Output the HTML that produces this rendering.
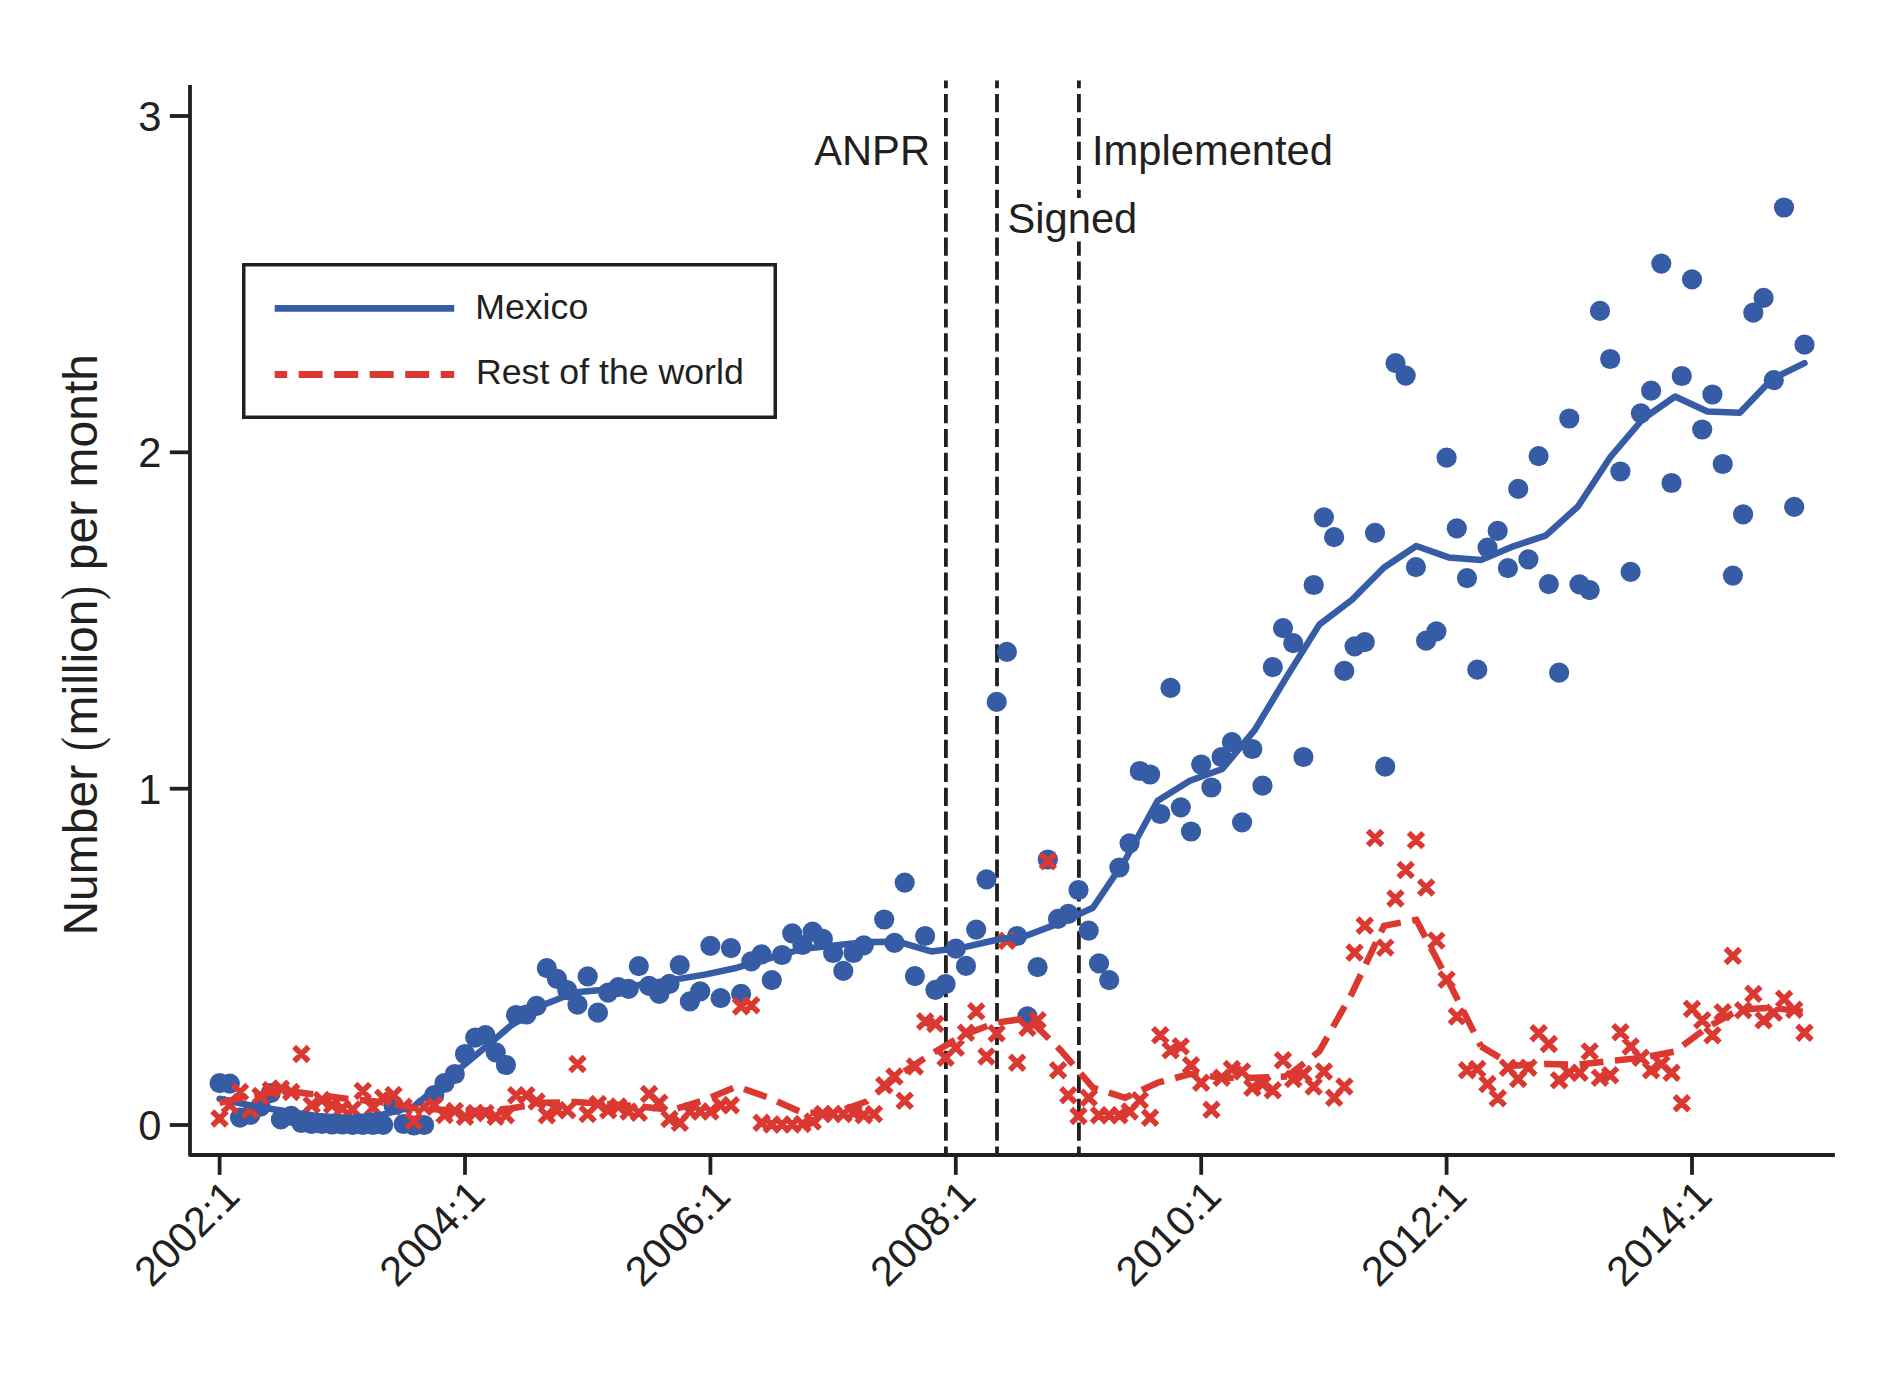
<!DOCTYPE html>
<html><head><meta charset="utf-8"><title>Chart</title>
<style>html,body{margin:0;padding:0;background:#fff}svg{display:block}text{font-family:"Liberation Sans",Arial,Helvetica,sans-serif;fill:#231f20}</style></head>
<body>
<svg width="1878" height="1384" viewBox="0 0 1878 1384">
<rect width="1878" height="1384" fill="#fff"/>
<g stroke="#231f20" stroke-width="3.8" fill="none" stroke-dasharray="18.2 5.72" stroke-dashoffset="10.3">
<line x1="945.9" y1="80.4" x2="945.9" y2="1155"/>
<line x1="997.0" y1="80.4" x2="997.0" y2="1155"/>
<line x1="1078.9" y1="80.4" x2="1078.9" y2="1155"/>
</g>
<g fill="#355ca5">
<circle cx="219.6" cy="1083.2" r="10.1"/>
<circle cx="229.8" cy="1083.6" r="10.1"/>
<circle cx="240.0" cy="1117.6" r="10.1"/>
<circle cx="250.3" cy="1114.9" r="10.1"/>
<circle cx="260.5" cy="1106.7" r="10.1"/>
<circle cx="270.7" cy="1093.2" r="10.1"/>
<circle cx="280.9" cy="1119.4" r="10.1"/>
<circle cx="291.2" cy="1115.8" r="10.1"/>
<circle cx="301.4" cy="1123.0" r="10.1"/>
<circle cx="311.6" cy="1124.0" r="10.1"/>
<circle cx="321.9" cy="1124.0" r="10.1"/>
<circle cx="332.1" cy="1124.5" r="10.1"/>
<circle cx="342.3" cy="1124.5" r="10.1"/>
<circle cx="352.5" cy="1125.0" r="10.1"/>
<circle cx="362.8" cy="1125.0" r="10.1"/>
<circle cx="373.0" cy="1125.0" r="10.1"/>
<circle cx="383.2" cy="1124.8" r="10.1"/>
<circle cx="393.4" cy="1105.0" r="10.1"/>
<circle cx="403.6" cy="1124.0" r="10.1"/>
<circle cx="413.9" cy="1125.5" r="10.1"/>
<circle cx="424.1" cy="1125.0" r="10.1"/>
<circle cx="434.3" cy="1095.0" r="10.1"/>
<circle cx="444.5" cy="1083.0" r="10.1"/>
<circle cx="454.8" cy="1074.0" r="10.1"/>
<circle cx="465.0" cy="1054.0" r="10.1"/>
<circle cx="475.2" cy="1037.6" r="10.1"/>
<circle cx="485.4" cy="1035.2" r="10.1"/>
<circle cx="495.7" cy="1052.4" r="10.1"/>
<circle cx="505.9" cy="1065.0" r="10.1"/>
<circle cx="516.1" cy="1015.0" r="10.1"/>
<circle cx="526.4" cy="1014.5" r="10.1"/>
<circle cx="536.6" cy="1005.9" r="10.1"/>
<circle cx="546.8" cy="968.1" r="10.1"/>
<circle cx="557.0" cy="978.9" r="10.1"/>
<circle cx="567.2" cy="990.1" r="10.1"/>
<circle cx="577.5" cy="1004.7" r="10.1"/>
<circle cx="587.7" cy="976.4" r="10.1"/>
<circle cx="597.9" cy="1012.7" r="10.1"/>
<circle cx="608.1" cy="992.6" r="10.1"/>
<circle cx="618.4" cy="987.1" r="10.1"/>
<circle cx="628.6" cy="988.9" r="10.1"/>
<circle cx="638.8" cy="966.1" r="10.1"/>
<circle cx="649.0" cy="985.9" r="10.1"/>
<circle cx="659.3" cy="993.9" r="10.1"/>
<circle cx="669.5" cy="983.9" r="10.1"/>
<circle cx="679.7" cy="965.1" r="10.1"/>
<circle cx="689.9" cy="1001.4" r="10.1"/>
<circle cx="700.2" cy="991.4" r="10.1"/>
<circle cx="710.4" cy="945.8" r="10.1"/>
<circle cx="720.6" cy="998.2" r="10.1"/>
<circle cx="730.9" cy="948.1" r="10.1"/>
<circle cx="741.1" cy="993.9" r="10.1"/>
<circle cx="751.3" cy="961.4" r="10.1"/>
<circle cx="761.5" cy="954.4" r="10.1"/>
<circle cx="771.8" cy="980.1" r="10.1"/>
<circle cx="782.0" cy="955.0" r="10.1"/>
<circle cx="792.2" cy="933.3" r="10.1"/>
<circle cx="802.4" cy="945.0" r="10.1"/>
<circle cx="812.6" cy="931.6" r="10.1"/>
<circle cx="822.9" cy="938.9" r="10.1"/>
<circle cx="833.1" cy="953.0" r="10.1"/>
<circle cx="843.3" cy="970.8" r="10.1"/>
<circle cx="853.5" cy="953.0" r="10.1"/>
<circle cx="863.8" cy="945.3" r="10.1"/>
<circle cx="884.2" cy="919.5" r="10.1"/>
<circle cx="894.5" cy="942.8" r="10.1"/>
<circle cx="904.7" cy="882.6" r="10.1"/>
<circle cx="914.9" cy="976.1" r="10.1"/>
<circle cx="925.1" cy="936.0" r="10.1"/>
<circle cx="935.4" cy="989.8" r="10.1"/>
<circle cx="945.6" cy="984.0" r="10.1"/>
<circle cx="955.8" cy="948.7" r="10.1"/>
<circle cx="966.0" cy="965.9" r="10.1"/>
<circle cx="976.2" cy="929.6" r="10.1"/>
<circle cx="986.5" cy="879.3" r="10.1"/>
<circle cx="996.7" cy="701.9" r="10.1"/>
<circle cx="1006.9" cy="651.8" r="10.1"/>
<circle cx="1017.1" cy="936.0" r="10.1"/>
<circle cx="1027.4" cy="1016.4" r="10.1"/>
<circle cx="1037.6" cy="967.1" r="10.1"/>
<circle cx="1047.8" cy="859.5" r="10.1"/>
<circle cx="1058.0" cy="918.8" r="10.1"/>
<circle cx="1068.3" cy="913.8" r="10.1"/>
<circle cx="1078.5" cy="890.0" r="10.1"/>
<circle cx="1088.7" cy="930.6" r="10.1"/>
<circle cx="1099.0" cy="963.4" r="10.1"/>
<circle cx="1109.2" cy="980.1" r="10.1"/>
<circle cx="1119.4" cy="867.5" r="10.1"/>
<circle cx="1129.6" cy="843.3" r="10.1"/>
<circle cx="1139.8" cy="771.0" r="10.1"/>
<circle cx="1150.1" cy="774.5" r="10.1"/>
<circle cx="1160.3" cy="814.0" r="10.1"/>
<circle cx="1170.5" cy="687.9" r="10.1"/>
<circle cx="1180.8" cy="807.3" r="10.1"/>
<circle cx="1191.0" cy="831.5" r="10.1"/>
<circle cx="1201.2" cy="764.5" r="10.1"/>
<circle cx="1211.4" cy="787.5" r="10.1"/>
<circle cx="1221.6" cy="757.0" r="10.1"/>
<circle cx="1231.9" cy="742.2" r="10.1"/>
<circle cx="1242.1" cy="822.3" r="10.1"/>
<circle cx="1252.3" cy="749.0" r="10.1"/>
<circle cx="1262.5" cy="785.7" r="10.1"/>
<circle cx="1272.8" cy="667.1" r="10.1"/>
<circle cx="1283.0" cy="628.1" r="10.1"/>
<circle cx="1293.2" cy="643.1" r="10.1"/>
<circle cx="1303.4" cy="757.0" r="10.1"/>
<circle cx="1313.7" cy="585.0" r="10.1"/>
<circle cx="1323.9" cy="517.3" r="10.1"/>
<circle cx="1334.1" cy="537.2" r="10.1"/>
<circle cx="1344.3" cy="670.9" r="10.1"/>
<circle cx="1354.6" cy="646.3" r="10.1"/>
<circle cx="1364.8" cy="642.1" r="10.1"/>
<circle cx="1375.0" cy="532.8" r="10.1"/>
<circle cx="1385.2" cy="766.7" r="10.1"/>
<circle cx="1395.5" cy="363.2" r="10.1"/>
<circle cx="1405.7" cy="375.6" r="10.1"/>
<circle cx="1415.9" cy="567.1" r="10.1"/>
<circle cx="1426.1" cy="640.7" r="10.1"/>
<circle cx="1436.4" cy="631.4" r="10.1"/>
<circle cx="1446.6" cy="457.7" r="10.1"/>
<circle cx="1456.8" cy="528.3" r="10.1"/>
<circle cx="1467.0" cy="578.1" r="10.1"/>
<circle cx="1477.3" cy="669.7" r="10.1"/>
<circle cx="1487.5" cy="547.6" r="10.1"/>
<circle cx="1497.7" cy="530.8" r="10.1"/>
<circle cx="1507.9" cy="568.1" r="10.1"/>
<circle cx="1518.2" cy="488.8" r="10.1"/>
<circle cx="1528.4" cy="559.4" r="10.1"/>
<circle cx="1538.6" cy="456.1" r="10.1"/>
<circle cx="1548.8" cy="584.1" r="10.1"/>
<circle cx="1559.1" cy="672.7" r="10.1"/>
<circle cx="1569.3" cy="418.5" r="10.1"/>
<circle cx="1579.5" cy="584.4" r="10.1"/>
<circle cx="1589.7" cy="590.1" r="10.1"/>
<circle cx="1600.0" cy="310.9" r="10.1"/>
<circle cx="1610.2" cy="359.0" r="10.1"/>
<circle cx="1620.4" cy="471.5" r="10.1"/>
<circle cx="1630.6" cy="571.9" r="10.1"/>
<circle cx="1640.9" cy="413.3" r="10.1"/>
<circle cx="1651.1" cy="390.7" r="10.1"/>
<circle cx="1661.3" cy="263.6" r="10.1"/>
<circle cx="1671.5" cy="483.0" r="10.1"/>
<circle cx="1681.8" cy="376.0" r="10.1"/>
<circle cx="1692.0" cy="279.4" r="10.1"/>
<circle cx="1702.2" cy="429.5" r="10.1"/>
<circle cx="1712.4" cy="394.5" r="10.1"/>
<circle cx="1722.7" cy="464.0" r="10.1"/>
<circle cx="1732.9" cy="575.6" r="10.1"/>
<circle cx="1743.1" cy="514.3" r="10.1"/>
<circle cx="1753.3" cy="312.7" r="10.1"/>
<circle cx="1763.6" cy="297.9" r="10.1"/>
<circle cx="1773.8" cy="380.2" r="10.1"/>
<circle cx="1784.0" cy="207.5" r="10.1"/>
<circle cx="1794.2" cy="506.8" r="10.1"/>
<circle cx="1804.5" cy="344.7" r="10.1"/>
</g>
<path fill="none" stroke="#da3831" stroke-width="5.6" d="M212.3 1111.2l14.54 14.54M212.3 1125.8l14.54 -14.54M222.6 1097.7l14.54 14.54M222.6 1112.3l14.54 -14.54M232.8 1084.7l14.54 14.54M232.8 1099.3l14.54 -14.54M243.0 1102.7l14.54 14.54M243.0 1117.3l14.54 -14.54M253.2 1088.7l14.54 14.54M253.2 1103.3l14.54 -14.54M263.5 1082.7l14.54 14.54M263.5 1097.3l14.54 -14.54M273.7 1081.3l14.54 14.54M273.7 1095.9l14.54 -14.54M283.9 1084.7l14.54 14.54M283.9 1099.3l14.54 -14.54M294.1 1046.7l14.54 14.54M294.1 1061.3l14.54 -14.54M304.4 1097.7l14.54 14.54M304.4 1112.3l14.54 -14.54M314.6 1092.7l14.54 14.54M314.6 1107.3l14.54 -14.54M324.8 1097.7l14.54 14.54M324.8 1112.3l14.54 -14.54M335.0 1101.2l14.54 14.54M335.0 1115.8l14.54 -14.54M345.3 1102.2l14.54 14.54M345.3 1116.8l14.54 -14.54M355.5 1083.7l14.54 14.54M355.5 1098.3l14.54 -14.54M365.7 1100.3l14.54 14.54M365.7 1114.9l14.54 -14.54M375.9 1090.4l14.54 14.54M375.9 1105.0l14.54 -14.54M386.2 1087.7l14.54 14.54M386.2 1102.3l14.54 -14.54M396.4 1099.4l14.54 14.54M396.4 1114.0l14.54 -14.54M406.6 1113.7l14.54 14.54M406.6 1128.3l14.54 -14.54M416.8 1099.4l14.54 14.54M416.8 1114.0l14.54 -14.54M427.1 1097.7l14.54 14.54M427.1 1112.3l14.54 -14.54M437.3 1107.7l14.54 14.54M437.3 1122.3l14.54 -14.54M447.5 1103.7l14.54 14.54M447.5 1118.3l14.54 -14.54M457.7 1109.4l14.54 14.54M457.7 1124.0l14.54 -14.54M468.0 1105.7l14.54 14.54M468.0 1120.3l14.54 -14.54M478.2 1105.7l14.54 14.54M478.2 1120.3l14.54 -14.54M488.4 1109.4l14.54 14.54M488.4 1124.0l14.54 -14.54M498.6 1108.0l14.54 14.54M498.6 1122.6l14.54 -14.54M508.9 1088.0l14.54 14.54M508.9 1102.6l14.54 -14.54M519.1 1088.0l14.54 14.54M519.1 1102.6l14.54 -14.54M529.3 1094.2l14.54 14.54M529.3 1108.8l14.54 -14.54M539.5 1108.0l14.54 14.54M539.5 1122.6l14.54 -14.54M549.8 1103.0l14.54 14.54M549.8 1117.6l14.54 -14.54M560.0 1103.0l14.54 14.54M560.0 1117.6l14.54 -14.54M570.2 1056.7l14.54 14.54M570.2 1071.3l14.54 -14.54M580.4 1106.7l14.54 14.54M580.4 1121.3l14.54 -14.54M590.7 1096.7l14.54 14.54M590.7 1111.3l14.54 -14.54M600.9 1103.0l14.54 14.54M600.9 1117.6l14.54 -14.54M611.1 1099.2l14.54 14.54M611.1 1113.8l14.54 -14.54M621.3 1104.2l14.54 14.54M621.3 1118.8l14.54 -14.54M631.6 1105.5l14.54 14.54M631.6 1120.1l14.54 -14.54M641.8 1086.7l14.54 14.54M641.8 1101.3l14.54 -14.54M652.0 1095.5l14.54 14.54M652.0 1110.1l14.54 -14.54M662.2 1111.7l14.54 14.54M662.2 1126.3l14.54 -14.54M672.5 1115.5l14.54 14.54M672.5 1130.1l14.54 -14.54M682.7 1104.2l14.54 14.54M682.7 1118.8l14.54 -14.54M692.9 1104.2l14.54 14.54M692.9 1118.8l14.54 -14.54M703.1 1104.2l14.54 14.54M703.1 1118.8l14.54 -14.54M713.4 1098.0l14.54 14.54M713.4 1112.6l14.54 -14.54M723.6 1098.0l14.54 14.54M723.6 1112.6l14.54 -14.54M733.8 999.1l14.54 14.54M733.8 1013.7l14.54 -14.54M744.0 997.9l14.54 14.54M744.0 1012.5l14.54 -14.54M754.3 1115.5l14.54 14.54M754.3 1130.1l14.54 -14.54M764.5 1117.2l14.54 14.54M764.5 1131.8l14.54 -14.54M774.7 1117.2l14.54 14.54M774.7 1131.8l14.54 -14.54M784.9 1117.2l14.54 14.54M784.9 1131.8l14.54 -14.54M795.2 1116.7l14.54 14.54M795.2 1131.3l14.54 -14.54M805.4 1114.2l14.54 14.54M805.4 1128.8l14.54 -14.54M815.6 1106.7l14.54 14.54M815.6 1121.3l14.54 -14.54M825.8 1106.7l14.54 14.54M825.8 1121.3l14.54 -14.54M836.1 1106.7l14.54 14.54M836.1 1121.3l14.54 -14.54M846.3 1105.5l14.54 14.54M846.3 1120.1l14.54 -14.54M856.5 1108.0l14.54 14.54M856.5 1122.6l14.54 -14.54M866.7 1106.7l14.54 14.54M866.7 1121.3l14.54 -14.54M877.0 1077.9l14.54 14.54M877.0 1092.5l14.54 -14.54M887.2 1069.2l14.54 14.54M887.2 1083.8l14.54 -14.54M897.4 1093.5l14.54 14.54M897.4 1108.1l14.54 -14.54M907.6 1059.2l14.54 14.54M907.6 1073.8l14.54 -14.54M917.9 1014.1l14.54 14.54M917.9 1028.7l14.54 -14.54M928.1 1016.6l14.54 14.54M928.1 1031.2l14.54 -14.54M938.3 1050.4l14.54 14.54M938.3 1065.0l14.54 -14.54M948.5 1040.4l14.54 14.54M948.5 1055.0l14.54 -14.54M958.8 1025.4l14.54 14.54M958.8 1040.0l14.54 -14.54M969.0 1004.1l14.54 14.54M969.0 1018.7l14.54 -14.54M979.2 1049.2l14.54 14.54M979.2 1063.8l14.54 -14.54M989.4 1026.1l14.54 14.54M989.4 1040.7l14.54 -14.54M999.7 933.5l14.54 14.54M999.7 948.1l14.54 -14.54M1009.9 1055.4l14.54 14.54M1009.9 1070.0l14.54 -14.54M1020.1 1020.4l14.54 14.54M1020.1 1035.0l14.54 -14.54M1030.3 1012.9l14.54 14.54M1030.3 1027.5l14.54 -14.54M1040.6 854.0l14.54 14.54M1040.6 868.6l14.54 -14.54M1050.8 1062.9l14.54 14.54M1050.8 1077.5l14.54 -14.54M1061.0 1088.0l14.54 14.54M1061.0 1102.6l14.54 -14.54M1071.2 1108.7l14.54 14.54M1071.2 1123.3l14.54 -14.54M1081.5 1090.5l14.54 14.54M1081.5 1105.1l14.54 -14.54M1091.7 1108.0l14.54 14.54M1091.7 1122.6l14.54 -14.54M1101.9 1108.0l14.54 14.54M1101.9 1122.6l14.54 -14.54M1112.1 1108.0l14.54 14.54M1112.1 1122.6l14.54 -14.54M1122.4 1104.2l14.54 14.54M1122.4 1118.8l14.54 -14.54M1132.6 1093.0l14.54 14.54M1132.6 1107.6l14.54 -14.54M1142.8 1110.5l14.54 14.54M1142.8 1125.1l14.54 -14.54M1153.0 1027.9l14.54 14.54M1153.0 1042.5l14.54 -14.54M1163.3 1042.9l14.54 14.54M1163.3 1057.5l14.54 -14.54M1173.5 1039.1l14.54 14.54M1173.5 1053.7l14.54 -14.54M1183.7 1057.9l14.54 14.54M1183.7 1072.5l14.54 -14.54M1193.9 1075.4l14.54 14.54M1193.9 1090.0l14.54 -14.54M1204.2 1102.5l14.54 14.54M1204.2 1117.1l14.54 -14.54M1214.4 1070.4l14.54 14.54M1214.4 1085.0l14.54 -14.54M1224.6 1061.7l14.54 14.54M1224.6 1076.3l14.54 -14.54M1234.8 1064.2l14.54 14.54M1234.8 1078.8l14.54 -14.54M1245.1 1080.4l14.54 14.54M1245.1 1095.0l14.54 -14.54M1255.3 1076.7l14.54 14.54M1255.3 1091.3l14.54 -14.54M1265.5 1082.9l14.54 14.54M1265.5 1097.5l14.54 -14.54M1275.7 1052.9l14.54 14.54M1275.7 1067.5l14.54 -14.54M1286.0 1071.7l14.54 14.54M1286.0 1086.3l14.54 -14.54M1296.2 1066.7l14.54 14.54M1296.2 1081.3l14.54 -14.54M1306.4 1079.2l14.54 14.54M1306.4 1093.8l14.54 -14.54M1316.6 1064.2l14.54 14.54M1316.6 1078.8l14.54 -14.54M1326.9 1090.5l14.54 14.54M1326.9 1105.1l14.54 -14.54M1337.1 1079.2l14.54 14.54M1337.1 1093.8l14.54 -14.54M1347.3 945.3l14.54 14.54M1347.3 959.9l14.54 -14.54M1357.5 918.3l14.54 14.54M1357.5 932.9l14.54 -14.54M1367.8 830.7l14.54 14.54M1367.8 845.3l14.54 -14.54M1378.0 940.3l14.54 14.54M1378.0 954.9l14.54 -14.54M1388.2 891.2l14.54 14.54M1388.2 905.8l14.54 -14.54M1398.4 862.7l14.54 14.54M1398.4 877.3l14.54 -14.54M1408.7 832.8l14.54 14.54M1408.7 847.4l14.54 -14.54M1418.9 880.2l14.54 14.54M1418.9 894.8l14.54 -14.54M1429.1 933.3l14.54 14.54M1429.1 947.9l14.54 -14.54M1439.3 972.3l14.54 14.54M1439.3 986.9l14.54 -14.54M1449.6 1009.1l14.54 14.54M1449.6 1023.7l14.54 -14.54M1459.8 1062.9l14.54 14.54M1459.8 1077.5l14.54 -14.54M1470.0 1061.7l14.54 14.54M1470.0 1076.3l14.54 -14.54M1480.2 1076.7l14.54 14.54M1480.2 1091.3l14.54 -14.54M1490.5 1091.0l14.54 14.54M1490.5 1105.6l14.54 -14.54M1500.7 1060.4l14.54 14.54M1500.7 1075.0l14.54 -14.54M1510.9 1071.7l14.54 14.54M1510.9 1086.3l14.54 -14.54M1521.1 1060.4l14.54 14.54M1521.1 1075.0l14.54 -14.54M1531.4 1025.9l14.54 14.54M1531.4 1040.5l14.54 -14.54M1541.6 1036.7l14.54 14.54M1541.6 1051.3l14.54 -14.54M1551.8 1072.9l14.54 14.54M1551.8 1087.5l14.54 -14.54M1562.0 1065.4l14.54 14.54M1562.0 1080.0l14.54 -14.54M1572.3 1065.4l14.54 14.54M1572.3 1080.0l14.54 -14.54M1582.5 1044.2l14.54 14.54M1582.5 1058.8l14.54 -14.54M1592.7 1070.4l14.54 14.54M1592.7 1085.0l14.54 -14.54M1602.9 1067.9l14.54 14.54M1602.9 1082.5l14.54 -14.54M1613.2 1024.9l14.54 14.54M1613.2 1039.5l14.54 -14.54M1623.4 1039.1l14.54 14.54M1623.4 1053.7l14.54 -14.54M1633.6 1050.4l14.54 14.54M1633.6 1065.0l14.54 -14.54M1643.8 1062.9l14.54 14.54M1643.8 1077.5l14.54 -14.54M1654.1 1056.7l14.54 14.54M1654.1 1071.3l14.54 -14.54M1664.3 1065.4l14.54 14.54M1664.3 1080.0l14.54 -14.54M1674.5 1096.0l14.54 14.54M1674.5 1110.6l14.54 -14.54M1684.7 1001.6l14.54 14.54M1684.7 1016.2l14.54 -14.54M1695.0 1012.9l14.54 14.54M1695.0 1027.5l14.54 -14.54M1705.2 1027.9l14.54 14.54M1705.2 1042.5l14.54 -14.54M1715.4 1004.9l14.54 14.54M1715.4 1019.5l14.54 -14.54M1725.6 948.6l14.54 14.54M1725.6 963.2l14.54 -14.54M1735.9 1002.9l14.54 14.54M1735.9 1017.5l14.54 -14.54M1746.1 986.6l14.54 14.54M1746.1 1001.2l14.54 -14.54M1756.3 1012.9l14.54 14.54M1756.3 1027.5l14.54 -14.54M1766.5 1005.4l14.54 14.54M1766.5 1020.0l14.54 -14.54M1776.8 991.6l14.54 14.54M1776.8 1006.2l14.54 -14.54M1787.0 1002.4l14.54 14.54M1787.0 1017.0l14.54 -14.54M1797.2 1025.4l14.54 14.54M1797.2 1040.0l14.54 -14.54"/>
<polyline points="219.6,1098.8 251.9,1105.8 284.3,1111.0 316.6,1116.0 349.0,1118.0 381.3,1115.0 413.7,1106.4 446.0,1080.0 478.4,1053.0 510.7,1025.8 543.0,1005.0 575.4,992.2 607.7,989.6 640.1,984.8 672.4,979.9 704.8,974.6 737.1,967.7 769.5,958.4 801.8,949.0 834.1,945.5 866.5,942.0 898.8,941.8 931.2,951.4 963.5,947.4 995.9,940.0 1028.2,935.0 1060.6,922.6 1092.9,907.7 1125.2,860.0 1157.6,800.8 1189.9,780.7 1222.3,769.0 1254.6,730.2 1287.0,676.4 1319.3,624.6 1351.7,600.0 1384.0,567.5 1416.3,546.0 1448.7,557.4 1481.0,560.1 1513.4,546.3 1545.7,535.6 1578.1,506.3 1610.4,457.0 1642.8,419.0 1675.1,396.5 1707.4,411.5 1739.8,412.8 1772.1,379.0 1804.5,363.2" fill="none" stroke="#355ca5" stroke-width="6.5" stroke-linejoin="round" stroke-linecap="round"/>
<polyline points="219.6,1102.9 251.9,1095.8 284.3,1090.5 316.6,1094.7 349.0,1099.0 381.3,1102.0 413.7,1108.0 446.0,1110.0 478.4,1111.0 510.7,1108.5 543.0,1102.8 575.4,1102.0 607.7,1104.0 640.1,1106.5 672.4,1110.0 704.8,1100.0 737.1,1086.5 769.5,1098.0 801.8,1112.5 834.1,1113.0 866.5,1101.5 898.8,1075.0 931.2,1054.0 963.5,1035.0 995.9,1022.7 1028.2,1018.2 1060.6,1050.2 1092.9,1087.7 1125.2,1097.8 1157.6,1082.7 1189.9,1074.0 1222.3,1077.7 1254.6,1077.7 1287.0,1076.5" fill="none" stroke="#da3831" stroke-width="6.5" stroke-dasharray="24 11.5" stroke-dashoffset="0.00"/>
<polyline points="1287.0,1076.5 1319.3,1051.3 1351.7,993.8 1384.0,925.8 1416.3,919.8 1448.7,981.7 1481.0,1046.4" fill="none" stroke="#da3831" stroke-width="6.5" stroke-dasharray="24 11.5" stroke-dashoffset="2.16"/>
<polyline points="1481.0,1046.4 1513.4,1065.7 1545.7,1064.0 1578.1,1064.7 1610.4,1061.0 1642.8,1057.7 1675.1,1051.5 1707.4,1027.2 1739.8,1009.4 1772.1,1007.7 1804.5,1012.0" fill="none" stroke="#da3831" stroke-width="6.5" stroke-dasharray="24 11.5" stroke-dashoffset="2.51"/>
<g stroke="#231f20" stroke-width="3.8" fill="none">
<path d="M190 85.1V1155H1834.9" stroke-linejoin="round"/>
<line x1="169.8" y1="116.0" x2="190" y2="116.0"/>
<line x1="169.8" y1="452.3" x2="190" y2="452.3"/>
<line x1="169.8" y1="788.7" x2="190" y2="788.7"/>
<line x1="169.8" y1="1125.0" x2="190" y2="1125.0"/>
<line x1="219.6" y1="1155" x2="219.6" y2="1174.8"/>
<line x1="465.0" y1="1155" x2="465.0" y2="1174.8"/>
<line x1="710.4" y1="1155" x2="710.4" y2="1174.8"/>
<line x1="955.8" y1="1155" x2="955.8" y2="1174.8"/>
<line x1="1201.2" y1="1155" x2="1201.2" y2="1174.8"/>
<line x1="1446.6" y1="1155" x2="1446.6" y2="1174.8"/>
<line x1="1692.0" y1="1155" x2="1692.0" y2="1174.8"/>
</g>
<g font-size="41.7" text-anchor="end">
<text x="161.5" y="130.8">3</text>
<text x="161.5" y="467.2">2</text>
<text x="161.5" y="803.6">1</text>
<text x="161.5" y="1139.8">0</text>
</g>
<g font-size="41.7" text-anchor="end">
<text transform="translate(241.8,1198.3) rotate(-45)">2002:1</text>
<text transform="translate(487.2,1198.3) rotate(-45)">2004:1</text>
<text transform="translate(732.6,1198.3) rotate(-45)">2006:1</text>
<text transform="translate(978.0,1198.3) rotate(-45)">2008:1</text>
<text transform="translate(1223.4,1198.3) rotate(-45)">2010:1</text>
<text transform="translate(1468.8,1198.3) rotate(-45)">2012:1</text>
<text transform="translate(1714.2,1198.3) rotate(-45)">2014:1</text>
</g>
<g font-size="48" transform="translate(97,644.8) rotate(-90)">
<text x="-290.76" y="0">Number</text>
<text transform="translate(-99.2,1.6) scale(0.74,1)" text-anchor="middle" font-size="55" style="font-family:'Liberation Serif',serif">(</text>
<text x="-90.73" y="0">million</text>
<text transform="translate(51.9,1.6) scale(0.74,1)" text-anchor="middle" font-size="55" style="font-family:'Liberation Serif',serif">)</text>
<text x="74.63" y="0">per month</text>
</g>
<text font-size="41.7" x="814.2" y="165.4">ANPR</text>
<rect x="1003" y="198" width="140" height="43.5" fill="#fff"/>
<text font-size="41.7" x="1007.5" y="232.5">Signed</text>
<text font-size="41.7" x="1092" y="165.4">Implemented</text>
<rect x="243.75" y="264.75" width="531.5" height="152.5" fill="#fff" stroke="#231f20" stroke-width="3.5"/>
<line x1="274.7" y1="308.3" x2="454.2" y2="308.3" stroke="#355ca5" stroke-width="6.8"/>
<line x1="274.7" y1="374.5" x2="454.2" y2="374.5" stroke="#da3831" stroke-width="6.8" stroke-dasharray="24 11.5" stroke-dashoffset="11.5"/>
<text font-size="35.7" x="475.2" y="318.6">Mexico</text>
<text font-size="35.7" x="476" y="384.2">Rest of the world</text>
</svg></body></html>
